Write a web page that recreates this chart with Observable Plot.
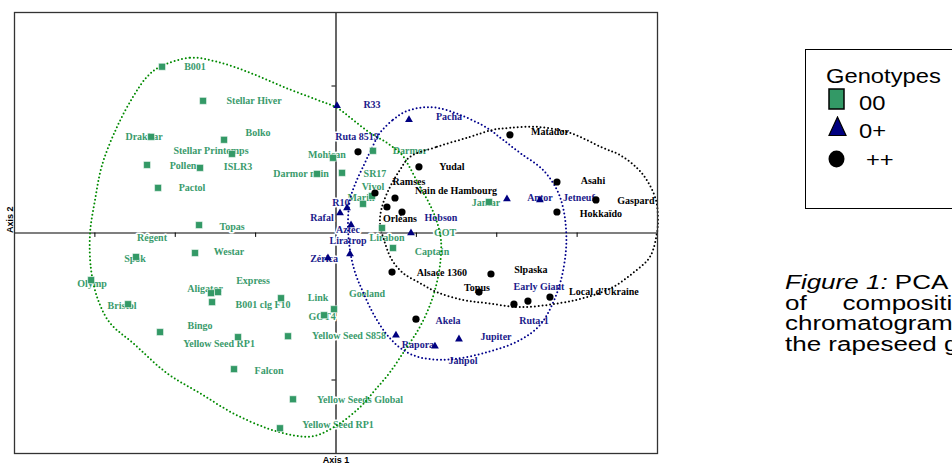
<!DOCTYPE html>
<html>
<head>
<meta charset="utf-8">
<script src="https://cdn.jsdelivr.net/npm/d3@7"></script>
<script src="https://cdn.jsdelivr.net/npm/@observablehq/plot@0.6"></script>
<style>
  html, body { margin: 0; padding: 0; background: #fff; }
  #page { position: relative; width: 952px; height: 464px; overflow: hidden; background: #fff; }
  #chart { position: absolute; left: 0; top: 0; }
  #legend { position: absolute; left: 805px; top: 49px; width: 170px; height: 158px; border: 1.5px solid #000; font-family: "Liberation Sans", Arial, sans-serif; font-size: 21px; color: #000; }
  #legend div { position: absolute; white-space: nowrap; line-height: 1; transform: scaleX(1.13); transform-origin: left center; }
  #legend svg { position: absolute; }
  #caption { position: absolute; left: 785px; top: 272px; font-family: "Liberation Sans", Arial, sans-serif; font-size: 20px; line-height: 20.5px; color: #000; white-space: nowrap; transform: scaleX(1.3); transform-origin: left top; }
</style>
</head>
<body>
<div id="page">
  <div id="chart"></div>
  <div id="legend">
    <div style="left:20px; top:15px;">Genotypes</div>
    <svg style="left:22px; top:38px;" width="18" height="23"><rect x="1" y="1" width="15" height="20" fill="#339966" stroke="#000" stroke-width="1.5"/></svg>
    <div style="left:53px; top:42px;">00</div>
    <svg style="left:22px; top:66px;" width="20" height="21"><polygon points="9.5,1 18,19.5 1,19.5" fill="#000080" stroke="#000" stroke-width="1.2"/></svg>
    <div style="left:53px; top:70px;">0+</div>
    <svg style="left:22px; top:100px;" width="18" height="19"><ellipse cx="8.5" cy="9" rx="8" ry="8.5" fill="#000"/></svg>
    <div style="left:60px; top:99px;">++</div>
  </div>
  <div id="caption">
    <div><i>Figure 1:</i> PCA analysis of</div>
    <div style="word-spacing:22px;">of composition of</div>
    <div>chromatograms of</div>
    <div>the rapeseed genotypes</div>
  </div>
</div>
<script>
// ---- data (axis units: x tick step = 1, y tick step = 1) ----
const xTicks = [-3, -2, -1, 1, 2, 3];
const yTicks = [-1, 1];

// genotype 00 (green squares)
const greenPoints = [
  [-2.164, 1.131], [-1.654, 0.899], [-1.393, 0.634], [-2.301, 0.654], [-1.294, 0.538],
  [-2.351, 0.463], [-1.692, 0.443], [-2.214, 0.307], [-1.704, 0.054], [-1.754, -0.136],
  [-2.488, -0.163], [-3.047, -0.320], [-1.555, -0.409], [-1.468, -0.402], [-1.542, -0.470],
  [-0.684, -0.443], [-2.587, -0.484], [-2.189, -0.674], [-1.219, -0.708], [-0.597, -0.702],
  [-1.269, -0.926], [-0.535, -1.131], [-0.697, -1.328], [-0.236, 0.402], [-0.037, 0.511],
  [0.075, 0.409], [0.460, 0.559], [0.448, 0.252], [0.336, 0.198], [0.572, 0.034],
  [0.709, -0.102], [1.903, 0.211], [-0.025, -0.518], [-0.149, -0.559]
];
// genotype 0+ (blue triangles)
const bluePoints = [
  [0.012, 0.865], [0.908, 0.770], [0.137, 0.170], [0.050, 0.136], [0.187, 0.054],
  [0.174, -0.143], [-0.100, -0.170], [0.933, 0.000], [2.127, 0.232], [2.537, 0.225],
  [1.530, -0.722], [0.746, -0.695], [1.231, -0.770]
];
// genotype ++ (black circles)
const blackPoints = [
  [2.164, 0.668], [0.274, 0.552], [1.032, 0.450], [0.485, 0.272], [0.734, 0.238],
  [0.634, 0.177], [0.821, 0.143], [0.697, -0.266], [1.928, -0.279], [1.779, -0.402],
  [2.214, -0.484], [2.388, -0.463], [2.662, -0.436], [0.995, -0.586], [2.749, 0.347],
  [3.234, 0.225], [2.749, 0.143]
];

const greenLabels = [
  ["B001", -1.754, 1.131], ["Stellar Hiver", -1.020, 0.899], ["Bolko", -0.970, 0.681],
  ["Drakkar", -2.388, 0.654], ["Stellar Printemps", -1.555, 0.559], ["Pollen", -1.903, 0.456],
  ["ISLR3", -1.219, 0.450], ["Darmor nain", -0.435, 0.402], ["Mohican", -0.112, 0.531],
  ["Pactol", -1.791, 0.307], ["Topas", -1.294, 0.041], ["Régent", -2.289, -0.034],
  ["Westar", -1.331, -0.129], ["Spok", -2.500, -0.177], ["Olymp", -3.035, -0.347],
  ["Aligator", -1.629, -0.381], ["Express", -1.032, -0.327], ["B001 clg F10", -0.908, -0.490],
  ["Link", -0.224, -0.443], ["GOT4", -0.174, -0.572], ["Bristol", -2.662, -0.497],
  ["Bingo", -1.692, -0.634], ["Yellow Seed RP1", -1.455, -0.756], ["Yellow Seed S858", 0.162, -0.702],
  ["Falcon", -0.833, -0.940], ["Yellow Seeds Global", 0.299, -1.138], ["Yellow Seed RP1", 0.025, -1.308],
  ["Darmor", 0.920, 0.559], ["SR17", 0.485, 0.402], ["Vivol", 0.460, 0.313],
  ["Marin", 0.311, 0.238], ["Jantar", 1.866, 0.204], ["Lirabon", 0.634, -0.034],
  ["Captain", 1.194, -0.129], ["GOT", 1.356, 0.000], ["Goeland", 0.386, -0.416]
];
const blueLabels = [
  ["R33", 0.448, 0.872], ["Pacha", 1.405, 0.790], ["Ruta 8519", 0.261, 0.654],
  ["R10", 0.062, 0.204], ["Rafal", -0.174, 0.102], ["Aztec", 0.149, 0.020],
  ["Liratrop", 0.149, -0.054], ["Zérica", -0.149, -0.177], ["Hobson", 1.306, 0.102],
  ["Antor", 2.537, 0.238], ["Jetneuf", 3.022, 0.238], ["Early Giant", 2.525, -0.368],
  ["Akela", 1.393, -0.599], ["Ruta-1", 2.463, -0.599], ["Jupiter", 1.990, -0.708],
  ["Rapora", 1.020, -0.763], ["Janpol", 1.580, -0.872]
];
const blackLabels = [
  ["Matador", 2.662, 0.688], ["Yudal", 1.443, 0.450], ["Ramses", 0.908, 0.347],
  ["Nain de Hambourg", 1.493, 0.286], ["Orléans", 0.796, 0.095], ["Alsace 1360", 1.318, -0.272],
  ["Slpaska", 2.425, -0.252], ["Topus", 1.754, -0.375], ["Local d'Ukraine", 3.333, -0.402],
  ["Asahi", 3.197, 0.354], ["Gaspard", 3.731, 0.218], ["Hokkaïdo", 3.296, 0.129]
];

// group outlines (closed dotted curves)
const greenOutline = [
  [-2.189, 1.131], [-1.816, 1.192], [-1.480, 1.165], [-1.070, 1.090], [-0.659, 0.995],
  [-0.236, 0.906], [0.012, 0.852], [0.211, 0.770], [0.423, 0.681], [0.634, 0.613],
  [0.821, 0.531], [0.920, 0.443], [1.045, 0.313], [1.169, 0.191], [1.256, 0.075],
  [1.306, -0.048], [1.294, -0.218], [1.231, -0.388], [1.144, -0.525], [1.020, -0.661],
  [0.858, -0.797], [0.672, -0.947], [0.485, -1.069], [0.299, -1.185], [0.012, -1.308],
  [-0.286, -1.383], [-0.535, -1.376], [-0.858, -1.328], [-1.281, -1.226], [-1.692, -1.090],
  [-2.102, -0.954], [-2.525, -0.749], [-2.811, -0.613], [-2.960, -0.456], [-3.047, -0.252],
  [-3.060, 0.000], [-2.998, 0.225], [-2.910, 0.463], [-2.724, 0.722], [-2.525, 0.926],
  [-2.351, 1.063]
];
const blueOutline = [
  [0.547, 0.681], [0.709, 0.770], [0.858, 0.824], [1.045, 0.852], [1.256, 0.852],
  [1.542, 0.804], [1.878, 0.715], [2.077, 0.634], [2.289, 0.545], [2.575, 0.429],
  [2.749, 0.293], [2.823, 0.177], [2.861, 0.034], [2.861, -0.116], [2.799, -0.320],
  [2.687, -0.490], [2.537, -0.627], [2.289, -0.729], [1.878, -0.811], [1.455, -0.858],
  [1.169, -0.858], [0.958, -0.831], [0.771, -0.770], [0.609, -0.674], [0.460, -0.545],
  [0.336, -0.402], [0.236, -0.266], [0.174, -0.116], [0.149, 0.054], [0.174, 0.225],
  [0.249, 0.347], [0.348, 0.463], [0.435, 0.565]
];
const blackOutline = [
  [0.920, 0.518], [1.256, 0.586], [1.667, 0.654], [1.953, 0.702], [2.164, 0.715],
  [2.500, 0.722], [2.910, 0.681], [3.321, 0.579], [3.532, 0.531], [3.744, 0.443],
  [3.881, 0.347], [3.980, 0.225], [4.005, 0.109], [3.993, 0.000], [3.905, -0.163],
  [3.694, -0.272], [3.445, -0.368], [3.122, -0.436], [2.786, -0.477], [2.289, -0.504],
  [1.878, -0.477], [1.580, -0.456], [1.256, -0.402], [1.045, -0.341], [0.833, -0.272],
  [0.697, -0.184], [0.609, -0.068], [0.547, 0.068], [0.572, 0.177], [0.672, 0.313],
  [0.796, 0.429]
];

// ---- styling ----
const GREEN = "#339966", GREEN_TXT = "#3a9b6c", BLUE = "#000080", BLUE_TXT = "#1a1a8a";
const labelFont = {fontFamily: "Liberation Serif, Times New Roman, serif", fontWeight: "bold", fontSize: 10, stroke: "white", strokeWidth: 3};
const dotted = (color) => ({x: d => d[0], y: d => d[1], curve: "catmull-rom-closed", stroke: color, strokeWidth: 2, strokeDasharray: "0,3.8", strokeLinecap: "round", fill: "none"});
const txt = (color) => ({x: d => d[1], y: d => d[2], text: d => d[0], fill: color, ...labelFont});

const plot = Plot.plot({
  width: 680,
  height: 464,
  marginLeft: 14,
  marginRight: 23,
  marginTop: 12,
  marginBottom: 11,
  x: {domain: [-4, 4], axis: null},
  y: {domain: [-1.5, 1.5], axis: null},
  style: {background: "white", overflow: "visible"},
  marks: [
    Plot.ruleX([0], {stroke: "#000", strokeWidth: 1.2}),
    Plot.ruleY([0], {stroke: "#000", strokeWidth: 1.2}),
    Plot.ruleX(xTicks, {x: d => d, y1: 0, y2: -0.03, stroke: "#000"}),
    Plot.ruleY(yTicks, {y: d => d, x1: 0, x2: -0.05, stroke: "#000"}),
    Plot.text(greenLabels, txt(GREEN_TXT)),
    Plot.text(blueLabels, txt(BLUE_TXT)),
    Plot.text(blackLabels, txt("#000")),
    Plot.line(greenOutline, dotted("#008a00")),
    Plot.line(blueOutline, dotted("#00008c")),
    Plot.line(blackOutline, dotted("#000")),
    Plot.dot(greenPoints, {x: d => d[0], y: d => d[1], symbol: "square", r: 3.9, fill: GREEN, stroke: "white", strokeWidth: 0.5}),
    Plot.dot(bluePoints, {x: d => d[0], y: d => d[1], symbol: "triangle", r: 2.9, fill: BLUE}),
    Plot.dot(blackPoints, {x: d => d[0], y: d => d[1], symbol: "circle", r: 3.6, fill: "#000"}),
    Plot.frame({stroke: "#333", strokeWidth: 1.3}),
    Plot.text(["Axis 2"], {text: d => d, frameAnchor: "left", dx: -4, rotate: -90, fontFamily: "Liberation Sans, Arial, sans-serif", fontWeight: "bold", fontSize: 9, fill: "#000"}),
    Plot.text(["Axis 1"], {text: d => d, frameAnchor: "bottom", dy: 9, fontFamily: "Liberation Sans, Arial, sans-serif", fontWeight: "bold", fontSize: 9, fill: "#000"})
  ]
});
document.getElementById("chart").appendChild(plot);
</script>
</body>
</html>
